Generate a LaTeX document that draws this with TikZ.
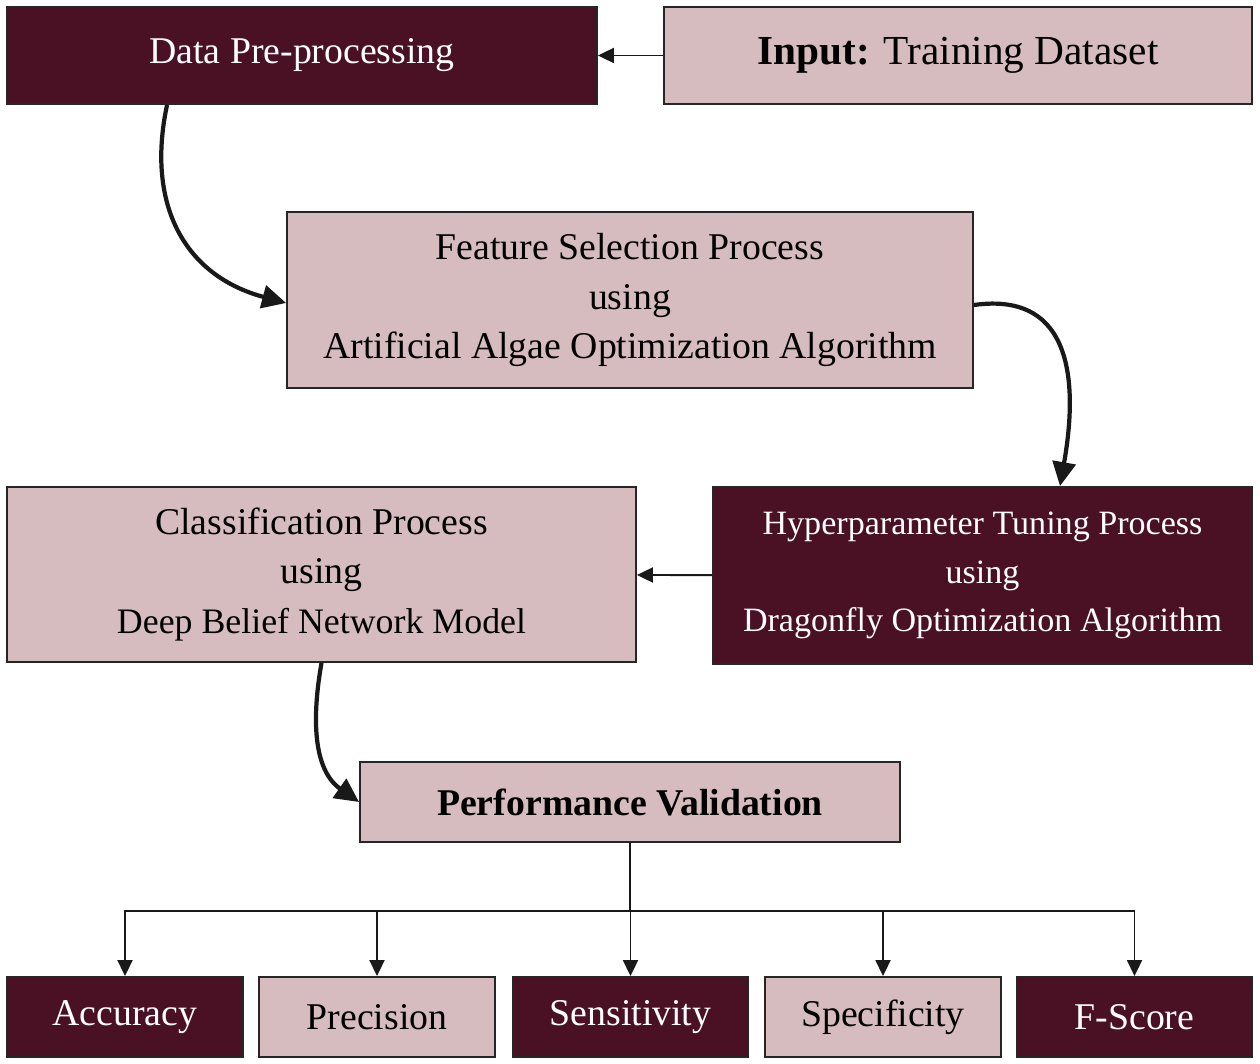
\documentclass[tikz,border=0pt]{standalone}
\usepackage{fontspec}
\setmainfont{Liberation Serif}
\usepackage{tikz}
\usetikzlibrary{arrows.meta, positioning, calc}
\definecolor{wine}{HTML}{4A1024}
\definecolor{blush}{HTML}{D6BCBF}
\tikzset{
    box/.style={rectangle, draw=black!85, line width=1.1pt, inner sep=0pt, align=center, font=\fontsize{21.5}{28}\selectfont},
    darkbox/.style={box, fill=wine, text=white},
    lightbox/.style={box, fill=blush, text=black},
    arrow/.style={-{Triangle[length=0.32cm, width=0.3cm]}, line width=1.1pt, draw=black!90},
    bigarrow/.style={-{Triangle[length=0.48cm, width=0.46cm]}, line width=2.4pt, draw=black!90}
}
\begin{document}
\begin{tikzpicture}[x=0.02cm, y=0.02cm]
        \useasboundingbox (0,0) rectangle (1260,-1064);
        \node[darkbox, minimum width=11.8cm, minimum height=1.94cm] (data) at (302,-55.5) {Data Pre-processing};
        \node[lightbox, minimum width=11.76cm, minimum height=1.94cm, font=\fontsize{23.5}{28}\selectfont] (input) at (958,-55.5) {\textbf{Input:} Training Dataset};
        \node[lightbox, minimum width=13.72cm, minimum height=3.52cm] (feat) at (630,-300) {Feature Selection Process\\using\\Artificial Algae Optimization Algorithm};
        \node[darkbox, minimum width=10.78cm, minimum height=3.54cm, font=\fontsize{19.4}{27.5}\selectfont] (hyper) at (982.5,-575.5) {Hyperparameter Tuning Process\\using\\Dragonfly Optimization Algorithm};
        \node[lightbox, minimum width=12.58cm, minimum height=3.5cm] (class) at (321.5,-574.5) {Classification Process\\using\\{\fontsize{20.4}{28}\selectfont Deep Belief Network Model}};
        \node[lightbox, minimum width=10.8cm, minimum height=1.6cm] (perf) at (630,-802) {\textbf{Performance Validation}};

        % metrics
        \node[darkbox, minimum width=4.72cm, minimum height=1.6cm] (acc) at (125,-1017) {Accuracy};
        \node[lightbox, minimum width=4.72cm, minimum height=1.6cm] (prec) at (377,-1017) {Precision};
        \node[darkbox, minimum width=4.72cm, minimum height=1.6cm] (sens) at (630.5,-1017) {Sensitivity};
        \node[lightbox, minimum width=4.72cm, minimum height=1.6cm] (spec) at (883,-1017) {Specificity};
        \node[darkbox, minimum width=4.72cm, minimum height=1.6cm] (fsc) at (1134.5,-1017) {F-Score};

        \draw[arrow] (input) -- (data);
        \draw[arrow] (hyper) -- (class);
        \draw[bigarrow] ([xshift=-2.7cm]data.south) to[out=-102, in=165, looseness=1.15] ([yshift=-0.06cm]feat.west);
        \draw[bigarrow] ([yshift=-0.1cm]feat.east) to[out=8, in=80, looseness=1.3] ([xshift=1.55cm]hyper.north);
        \draw[bigarrow] (class.south) to[out=-100, in=145] (perf.west);
        \foreach \m in {acc, prec, sens, spec, fsc}
            \draw[arrow] (perf.south) -- ++(0,-68) -| (\m.north);
    \end{tikzpicture}
\end{document}
